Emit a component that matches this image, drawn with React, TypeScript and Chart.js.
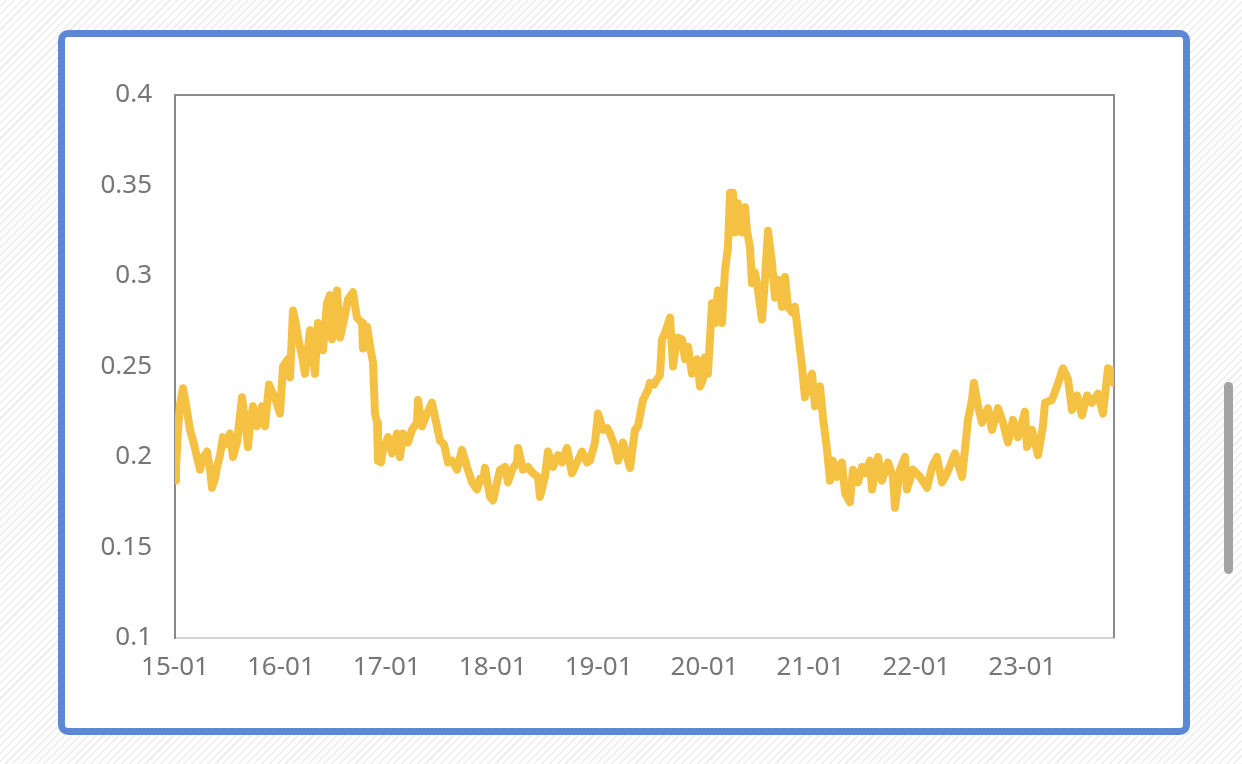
import React, { useEffect, useRef } from 'react';
import { Chart, registerables } from 'chart.js';

Chart.register(...registerables);

// x position of each observation, in months since 2015-01
const monthsSince2015 = [
  0, 0.11, 0.34, 0.57, 0.91, 1.25, 1.7, 2.15, 2.49, 2.83,
  3.17, 3.63, 3.97, 4.19, 4.53, 4.76, 5.1, 5.44, 5.89, 6.23,
  6.57, 7.03, 7.59, 7.93, 8.27, 8.5, 8.84, 9.29, 9.86, 10.2,
  10.65, 10.99, 11.33, 11.9, 12.24, 12.8, 13.03, 13.37, 13.71, 13.94,
  14.39, 14.73, 15.3, 15.86, 16.2, 16.77, 17.22, 17.56, 17.79, 18.36,
  18.7, 19.15, 19.6, 20.17, 20.62, 21.19, 21.3, 21.76, 22.1, 22.44,
  22.66, 22.89, 23.0, 23.34, 23.57, 24.13, 24.59, 25.15, 25.49, 25.83,
  26.4, 26.85, 27.42, 27.53, 27.99, 28.55, 29.12, 29.46, 30.03, 30.48,
  30.93, 31.39, 31.95, 32.52, 33.09, 33.65, 34.22, 34.56, 34.9, 35.13,
  35.69, 36.03, 36.49, 36.83, 37.39, 37.73, 38.19, 38.75, 38.87, 39.43,
  40.0, 40.56, 41.13, 41.36, 41.92, 42.26, 42.83, 43.4, 43.85, 44.42,
  44.98, 45.55, 46.12, 46.68, 47.02, 47.59, 47.93, 48.5, 48.95, 49.29,
  49.86, 50.2, 50.76, 51.33, 51.56, 52.12, 52.46, 53.03, 53.6, 53.82,
  54.28, 54.62, 54.95, 55.18, 55.52, 55.75, 56.09, 56.43, 56.77, 56.99,
  57.45, 57.79, 58.13, 58.58, 59.15, 59.49, 59.83, 60.05, 60.39, 60.85,
  61.19, 61.53, 61.98, 62.32, 62.66, 62.89, 63.23, 63.45, 63.79, 64.25,
  64.59, 64.81, 65.15, 65.38, 65.72, 66.06, 66.51, 66.85, 67.19, 67.65,
  67.99, 68.33, 68.78, 69.12, 69.46, 69.91, 70.25, 70.59, 71.05, 71.38,
  71.95, 72.18, 72.52, 73.08, 73.42, 73.88, 74.22, 74.56, 75.01, 75.58,
  75.92, 76.48, 76.82, 77.39, 77.84, 78.18, 78.75, 78.98, 79.66, 80.11,
  80.79, 81.36, 81.58, 82.15, 82.72, 82.94, 83.62, 84.42, 85.21, 85.78,
  86.34, 86.91, 87.48, 88.38, 89.18, 89.51, 89.85, 90.3, 90.53, 90.99,
  91.44, 92.12, 92.57, 93.25, 93.82, 94.39, 94.95, 95.52, 96.31, 96.54,
  97.11, 97.79, 98.35, 98.58, 99.37, 99.94, 100.62, 101.19, 101.64, 102.21,
  102.77, 103.34, 103.9, 104.58, 105.15, 105.72, 106.06, 106.4,
];

// series value at each observation
const seriesValues = [
  0.187, 0.193, 0.215, 0.229, 0.238, 0.229, 0.215, 0.207, 0.2, 0.193,
  0.1995, 0.203, 0.193, 0.183, 0.188, 0.1945, 0.201, 0.211, 0.207, 0.213,
  0.2, 0.208, 0.233, 0.2205, 0.2055, 0.218, 0.228, 0.217, 0.228, 0.217,
  0.24, 0.236, 0.233, 0.224, 0.25, 0.254, 0.244, 0.281, 0.273, 0.266,
  0.256, 0.246, 0.27, 0.246, 0.274, 0.259, 0.285, 0.2895, 0.265, 0.292,
  0.266, 0.276, 0.287, 0.291, 0.277, 0.274, 0.26, 0.272, 0.261, 0.252,
  0.224, 0.219, 0.198, 0.197, 0.204, 0.211, 0.202, 0.213, 0.2, 0.213,
  0.208, 0.215, 0.219, 0.2315, 0.217, 0.224, 0.23, 0.222, 0.209, 0.207,
  0.197, 0.198, 0.193, 0.204, 0.1945, 0.186, 0.182, 0.188, 0.187, 0.194,
  0.178, 0.176, 0.186, 0.193, 0.1945, 0.186, 0.193, 0.197, 0.205, 0.193,
  0.1945, 0.191, 0.189, 0.178, 0.189, 0.203, 0.1945, 0.201, 0.197, 0.205,
  0.191, 0.197, 0.203, 0.197, 0.198, 0.208, 0.224, 0.215, 0.216, 0.213,
  0.2055, 0.198, 0.208, 0.198, 0.194, 0.215, 0.217, 0.2315, 0.237, 0.241,
  0.24, 0.243, 0.245, 0.265, 0.2685, 0.272, 0.277, 0.25, 0.262, 0.266,
  0.265, 0.254, 0.261, 0.246, 0.254, 0.239, 0.243, 0.255, 0.246, 0.285,
  0.274, 0.292, 0.274, 0.303, 0.316, 0.346, 0.346, 0.324, 0.34, 0.324,
  0.338, 0.325, 0.316, 0.296, 0.302, 0.292, 0.276, 0.298, 0.325, 0.307,
  0.288, 0.298, 0.283, 0.2995, 0.283, 0.28, 0.283, 0.2685, 0.25, 0.233,
  0.243, 0.246, 0.228, 0.239, 0.222, 0.204, 0.187, 0.198, 0.189, 0.197,
  0.18, 0.175, 0.193, 0.186, 0.1945, 0.191, 0.198, 0.182, 0.2, 0.187,
  0.197, 0.189, 0.172, 0.193, 0.2, 0.182, 0.193, 0.189, 0.183, 0.1945,
  0.2, 0.186, 0.191, 0.202, 0.189, 0.204, 0.2205, 0.2315, 0.241, 0.228,
  0.219, 0.227, 0.215, 0.227, 0.219, 0.208, 0.2205, 0.211, 0.225, 0.2055,
  0.215, 0.201, 0.217, 0.23, 0.2315, 0.239, 0.249, 0.243, 0.226, 0.234,
  0.223, 0.234, 0.23, 0.235, 0.224, 0.249, 0.248, 0.241,
];

const xTickMonths = [0, 12, 24, 36, 48, 60, 72, 84, 96];
const xTickLabels = ['15-01', '16-01', '17-01', '18-01', '19-01', '20-01', '21-01', '22-01', '23-01'];
const yTickValues = [0.1, 0.15, 0.2, 0.25, 0.3, 0.35, 0.4];
const yTickLabels = ['0.1', '0.15', '0.2', '0.25', '0.3', '0.35', '0.4'];
const xMax = 106.4;

const framePlugin = {
  id: 'frameTopRight',
  beforeDatasetsDraw(chart: any) {
    const { ctx, chartArea } = chart;
    const { left, right, top, bottom } = chartArea;
    ctx.save();
    ctx.strokeStyle = '#8c8c8c';
    ctx.lineWidth = 2;
    ctx.beginPath();
    ctx.moveTo(left, top);
    ctx.lineTo(right, top);
    ctx.lineTo(right, bottom);
    ctx.stroke();
    ctx.restore();
  },
};

export default function App() {
  const canvasRef = useRef<HTMLCanvasElement | null>(null);

  useEffect(() => {
    if (!canvasRef.current) return;
    const points = monthsSince2015.map((m, i) => ({ x: m, y: seriesValues[i] }));
    const tickFont = { family: '"Noto Sans", sans-serif', size: 26 };
    const chart = new Chart(canvasRef.current, {
      type: 'line',
      data: {
        datasets: [
          {
            data: points,
            borderColor: '#F5C143',
            borderWidth: 8,
            pointRadius: 0,
            tension: 0,
            fill: false,
            borderJoinStyle: 'round',
            borderCapStyle: 'round',
          } as any,
        ],
      },
      options: {
        animation: false,
        responsive: true,
        maintainAspectRatio: false,
        layout: { padding: { left: 0, top: 95, right: 128, bottom: 66 } },
        plugins: { legend: { display: false }, tooltip: { enabled: false } },
        scales: {
          x: {
            type: 'linear',
            min: 0,
            max: xMax,
            grid: { display: false, drawTicks: false },
            border: { display: true, color: '#d4d4d4', width: 2 },
            afterFit: (scale: any) => {
              scale.height = 60;
            },
            afterBuildTicks: (scale: any) => {
              scale.ticks = xTickMonths.map((v) => ({ value: v }));
            },
            ticks: {
              autoSkip: false,
              maxRotation: 0,
              padding: 14,
              color: '#767676',
              font: tickFont,
              callback: (v: any) => {
                const i = xTickMonths.indexOf(Number(v));
                return i >= 0 ? xTickLabels[i] : '';
              },
            },
          },
          y: {
            min: 0.1,
            max: 0.4,
            grid: { display: false, drawTicks: false },
            border: { display: true, color: '#8a8a8a', width: 2 },
            afterFit: (scale: any) => {
              scale.width = 175;
            },
            afterBuildTicks: (scale: any) => {
              scale.ticks = yTickValues.map((v) => ({ value: v }));
            },
            ticks: {
              padding: 23,
              color: '#767676',
              font: tickFont,
              callback: (v: any) => {
                let best = 0;
                yTickValues.forEach((t, i) => {
                  if (Math.abs(t - Number(v)) < Math.abs(yTickValues[best] - Number(v))) best = i;
                });
                return yTickLabels[best];
              },
            },
          },
        },
      },
      plugins: [framePlugin],
    });
    return () => chart.destroy();
  }, []);

  return (
    <div
      style={{
        position: 'fixed',
        left: 0,
        top: 0,
        width: 1242,
        height: 764,
        overflow: 'hidden',
        background:
          'repeating-linear-gradient(135deg, #ffffff 0px, #ffffff 4px, #eeeeee 4px, #eeeeee 5.5px)',
      }}
    >
      <div
        style={{
          position: 'absolute',
          left: 58,
          top: 30,
          width: 1132,
          height: 705,
          boxSizing: 'border-box',
          border: '7px solid #5C88D3',
          borderRadius: 10,
          background: '#ffffff',
        }}
      />
      <div
        style={{
          position: 'absolute',
          left: 1224,
          top: 382,
          width: 9,
          height: 192,
          borderRadius: 5,
          background: '#a3a3a3',
        }}
      />
      <div style={{ position: 'absolute', left: 0, top: 0, width: 1242, height: 764 }}>
        <canvas ref={canvasRef} />
      </div>
    </div>
  );
}
